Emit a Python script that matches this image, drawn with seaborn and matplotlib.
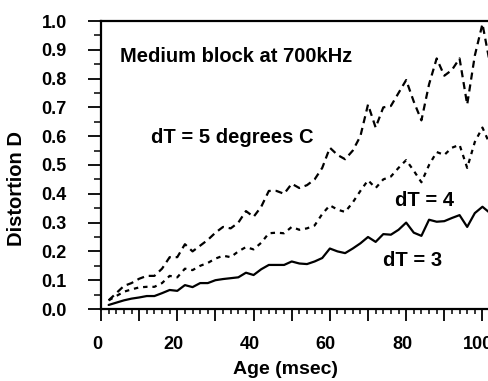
import numpy as np
import pandas as pd
import matplotlib
matplotlib.use("Agg")
import matplotlib.pyplot as plt
import matplotlib.transforms as mtransforms
import seaborn as sns
from matplotlib.ticker import MultipleLocator, FuncFormatter

age = [2, 4, 6, 8, 10, 12, 14, 16, 18, 20, 22, 24, 26, 28, 30, 32, 34, 36, 38, 40,
       42, 44, 46, 48, 50, 52, 54, 56, 58, 60, 62, 64, 66, 68, 70, 72, 74, 76, 78, 80,
       82, 84, 86, 88, 90, 92, 94, 96, 98, 100, 102]

d_dt5 = [0.030, 0.055, 0.080, 0.090, 0.105, 0.115, 0.115, 0.140, 0.180, 0.180,
         0.225, 0.200, 0.220, 0.240, 0.265, 0.285, 0.280, 0.300, 0.340, 0.320,
         0.355, 0.410, 0.410, 0.400, 0.435, 0.420, 0.430, 0.450, 0.490, 0.560,
         0.535, 0.520, 0.550, 0.600, 0.710, 0.630, 0.700, 0.705, 0.750, 0.795,
         0.720, 0.655, 0.780, 0.870, 0.810, 0.830, 0.870, 0.710, 0.880, 0.990,
         0.850]

d_dt4 = [0.030, 0.045, 0.060, 0.068, 0.075, 0.077, 0.077, 0.090, 0.115, 0.110,
         0.140, 0.135, 0.150, 0.160, 0.175, 0.185, 0.180, 0.200, 0.215, 0.207,
         0.230, 0.263, 0.265, 0.263, 0.285, 0.275, 0.280, 0.290, 0.330, 0.360,
         0.345, 0.337, 0.370, 0.410, 0.447, 0.420, 0.450, 0.460, 0.490, 0.517,
         0.480, 0.440, 0.500, 0.545, 0.535, 0.560, 0.570, 0.490, 0.580, 0.630,
         0.570]

d_dt3 = [0.014, 0.022, 0.030, 0.036, 0.040, 0.045, 0.045, 0.055, 0.066, 0.063,
         0.083, 0.076, 0.090, 0.090, 0.100, 0.104, 0.107, 0.110, 0.126, 0.118,
         0.138, 0.153, 0.153, 0.153, 0.165, 0.158, 0.156, 0.165, 0.177, 0.210,
         0.200, 0.194, 0.210, 0.228, 0.250, 0.233, 0.260, 0.258, 0.275, 0.300,
         0.265, 0.254, 0.310, 0.303, 0.305, 0.316, 0.326, 0.285, 0.333, 0.355,
         0.333]

title_text = "Medium block at 700kHz"
label_dt5 = "dT = 5 degrees C"
label_dt4 = "dT = 4"
label_dt3 = "dT = 3"

sns.set_style("ticks")
plt.rcParams['font.family'] = ['Liberation Sans', 'DejaVu Sans']
plt.rcParams['font.weight'] = 'bold'
for key in ['text.color', 'axes.labelcolor', 'xtick.color', 'ytick.color', 'axes.edgecolor']:
    plt.rcParams[key] = 'black'

fig = plt.figure(figsize=(4.89, 3.81), dpi=100)
ax = fig.add_axes([101/489, 1 - 309/381, 1 - 101/489 + 0.01, (309 - 21)/381])

sns.lineplot(x=age, y=d_dt5, ax=ax, color='black', lw=1.6,
             linestyle=(0, (3.2, 2.2)))
sns.lineplot(x=age, y=d_dt4, ax=ax, color='black', lw=1.6,
             linestyle=(0, (2.0, 2.2)))
sns.lineplot(x=age, y=d_dt3, ax=ax, color='black', lw=1.6, linestyle='-')

ax.set_xlim(0, 103)
ax.set_ylim(0, 1.0)

ax.xaxis.set_major_locator(MultipleLocator(10))
ax.xaxis.set_minor_locator(MultipleLocator(2))
ax.xaxis.set_major_formatter(FuncFormatter(lambda v, p: f"{v:.0f}" if round(v) % 20 == 0 else ""))
ax.yaxis.set_major_locator(MultipleLocator(0.1))
ax.yaxis.set_minor_locator(MultipleLocator(0.05))
ax.yaxis.set_major_formatter(FuncFormatter(lambda v, p: f"{v:.1f}"))

ax.tick_params(axis='x', which='major', direction='out', length=8.5, width=1.3,
               pad=11, labelsize=13)
ax.tick_params(axis='x', which='minor', direction='out', length=3.5, width=1.1)
ax.tick_params(axis='y', which='major', direction='out', length=9.5, width=1.3,
               pad=15, labelsize=13)
ax.tick_params(axis='y', which='minor', direction='out', length=5, width=1.1)

shift = mtransforms.ScaledTranslation(-4/100, 0, fig.dpi_scale_trans)
for lab in ax.get_xticklabels():
    lab.set_fontweight('bold')
    lab.set_transform(lab.get_transform() + shift)
for lab in ax.get_yticklabels():
    lab.set_fontweight('bold')

for side in ['left', 'bottom', 'top']:
    ax.spines[side].set_linewidth(1.6)
    ax.spines[side].set_color('black')
ax.spines['right'].set_visible(False)

ax.set_xlabel("Age (msec)", fontsize=14, fontweight='bold')
ax.set_ylabel("Distortion D", fontsize=14.5, fontweight='bold')
ax.xaxis.set_label_coords(0.469, -0.182)
ax.yaxis.set_label_coords(-0.19, 0.417)

ax.text(5, 0.875, title_text, fontsize=14.5, fontweight='bold', va='center', ha='left')
ax.text(13, 0.597, label_dt5, fontsize=14.5, fontweight='bold', va='center', ha='left')
ax.text(77.2, 0.375, label_dt4, fontsize=14.5, fontweight='bold', va='center', ha='left')
ax.text(74, 0.167, label_dt3, fontsize=14.5, fontweight='bold', va='center', ha='left')

fig.savefig("out.png", dpi=100)
